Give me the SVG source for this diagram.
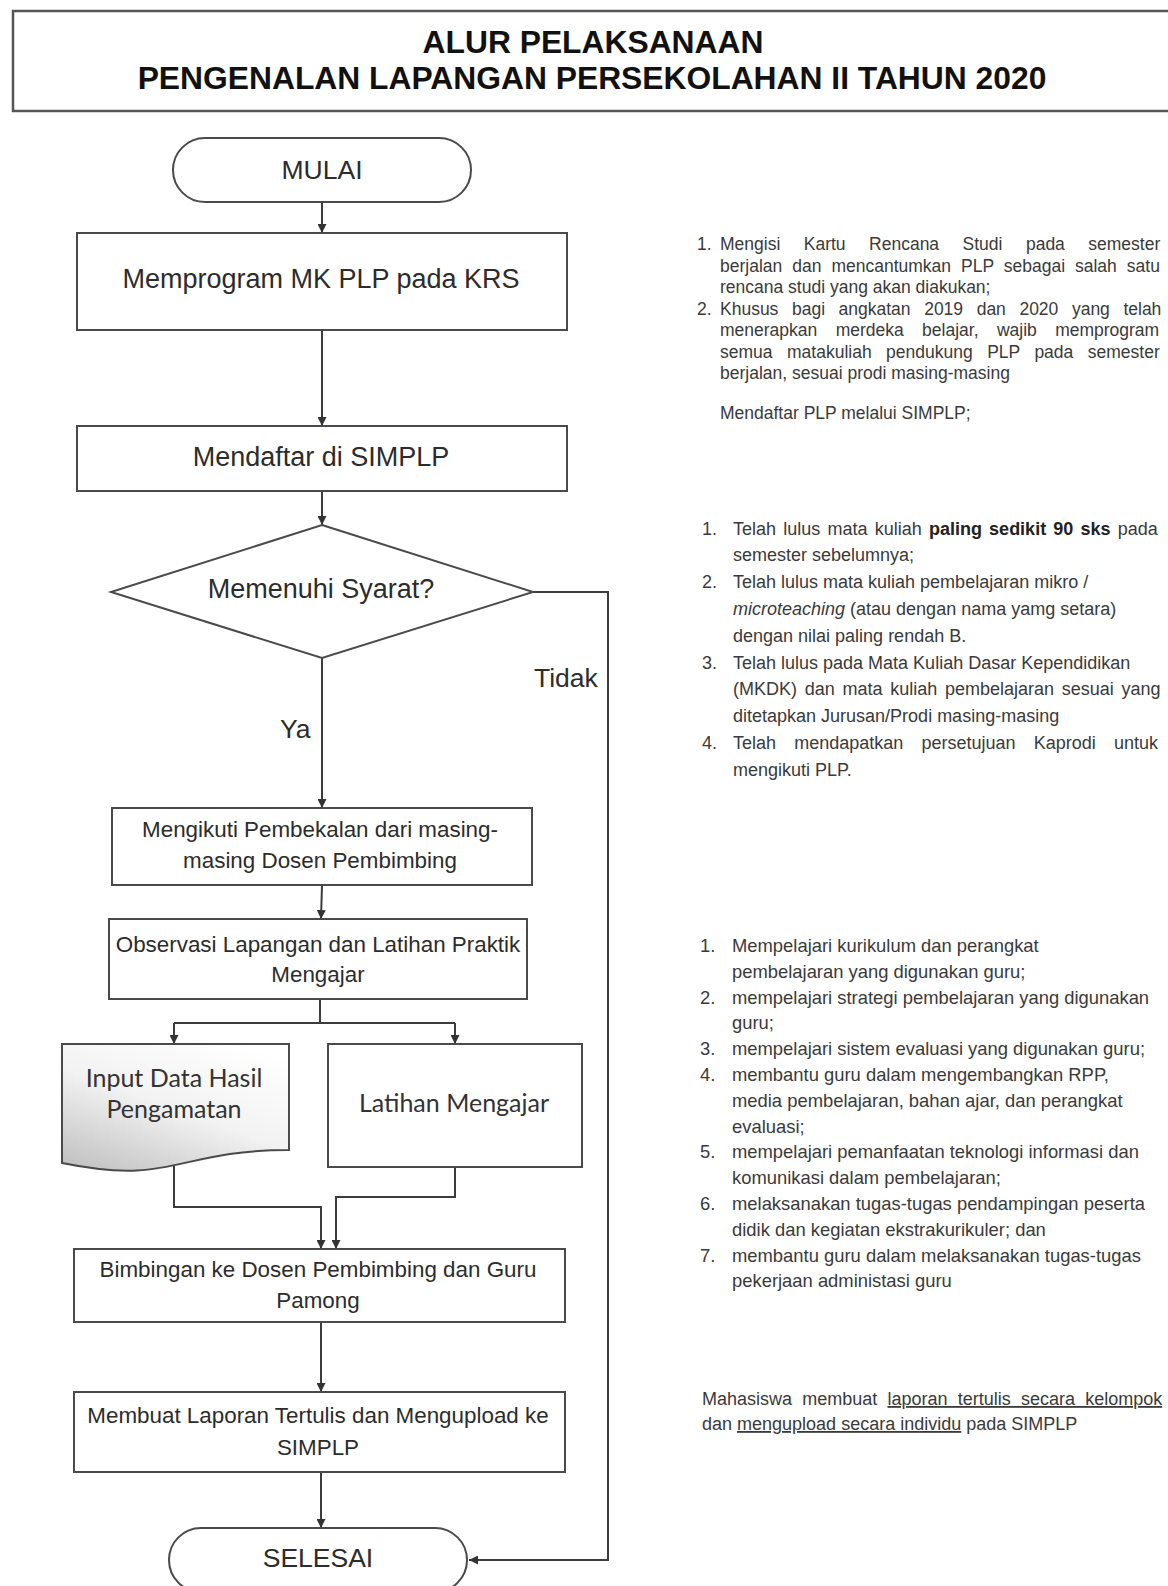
<svg xmlns="http://www.w3.org/2000/svg" width="1168" height="1586" viewBox="0 0 1168 1586">
<defs>
<marker id="ah" viewBox="0 0 10 10" refX="10" refY="5" markerWidth="9" markerHeight="9" markerUnits="userSpaceOnUse" orient="auto"><path d="M0,0 L10,5 L0,10 z" fill="#333"/></marker>
<linearGradient id="docg" x1="0.8" y1="0" x2="0.15" y2="1"><stop offset="0" stop-color="#ffffff"/><stop offset="0.5" stop-color="#f2f2f2"/><stop offset="1" stop-color="#c4c4c4"/></linearGradient>
<style>
.ln{stroke:#3c3c3c;stroke-width:2;fill:none}
.bx{fill:#fff;stroke:#4a4a4a;stroke-width:2}
.ft{font-family:"Liberation Sans",Arial,sans-serif;font-size:22.4px;fill:#2c2c2c;text-anchor:middle}
.fl{font-size:26.5px}
.cb{font-family:Lato,"Open Sans",sans-serif;font-size:25px;fill:#333;text-anchor:middle}
.rt{font-family:"Liberation Sans",Arial,sans-serif;font-size:18px;fill:#3a3a3a}
.rs{font-family:"Liberation Sans",Arial,sans-serif;font-size:17.5px;fill:#3a3a3a}
.tt{font-family:"Liberation Sans",Arial,sans-serif;font-size:31.8px;font-weight:bold;fill:#111;text-anchor:middle}
</style>
</defs>
<rect width="1168" height="1586" fill="#fff"/>

<g id="title">
<rect x="13" y="11" width="1170" height="100" fill="#fff" stroke="#555" stroke-width="2.5"/>
<text class="tt" x="593" y="53">ALUR PELAKSANAAN</text>
<text class="tt" x="592" y="89">PENGENALAN LAPANGAN PERSEKOLAHAN II TAHUN 2020</text>
</g>

<g id="connectors">
<line class="ln" x1="322" y1="202" x2="322" y2="233" marker-end="url(#ah)"/>
<line class="ln" x1="322" y1="330" x2="322" y2="426" marker-end="url(#ah)"/>
<line class="ln" x1="322" y1="491" x2="322" y2="525" marker-end="url(#ah)"/>
<line class="ln" x1="322" y1="658" x2="322" y2="808" marker-end="url(#ah)"/>
<polyline class="ln" points="533,592 608,592 608,1560 469,1560" marker-end="url(#ah)"/>
<line class="ln" x1="322" y1="885" x2="321" y2="919" marker-end="url(#ah)"/>
<line class="ln" x1="320" y1="999" x2="320" y2="1023"/>
<line class="ln" x1="174" y1="1023" x2="455" y2="1023"/>
<line class="ln" x1="174" y1="1023" x2="174" y2="1044" marker-end="url(#ah)"/>
<line class="ln" x1="455" y1="1023" x2="455" y2="1044" marker-end="url(#ah)"/>
<polyline class="ln" points="174,1166 174,1207 321,1207 321,1249" marker-end="url(#ah)"/>
<polyline class="ln" points="455,1167 455,1197 336,1197 336,1249" marker-end="url(#ah)"/>
<line class="ln" x1="321" y1="1322" x2="321" y2="1392" marker-end="url(#ah)"/>
<line class="ln" x1="321" y1="1472" x2="321" y2="1528" marker-end="url(#ah)"/>
<text class="ft fl" x="534" y="687" style="text-anchor:start">Tidak</text>
<text class="ft fl" x="280" y="738" style="text-anchor:start">Ya</text>
</g>

<g id="mulai">
<rect class="bx" x="173" y="138" width="298" height="64" rx="32"/>
<text class="ft fl" x="322" y="179">MULAI</text>
</g>

<g id="memprogram">
<rect class="bx" x="77" y="233" width="490" height="97"/>
<text class="ft" x="321" y="288" style="font-size:27px">Memprogram MK PLP pada KRS</text>
</g>

<g id="mendaftar">
<rect class="bx" x="77" y="426" width="490" height="65"/>
<text class="ft" x="321" y="466" style="font-size:27px">Mendaftar di SIMPLP</text>
</g>

<g id="syarat">
<polygon class="bx" points="322,525 533,592 322,658 111,592"/>
<text class="ft" x="321" y="598" style="font-size:27px">Memenuhi Syarat?</text>
</g>

<g id="pembekalan">
<rect class="bx" x="112" y="808" width="420" height="77"/>
<text class="ft" x="320" y="837">Mengikuti Pembekalan dari masing-</text>
<text class="ft" x="320" y="868">masing Dosen Pembimbing</text>
</g>

<g id="observasi">
<rect class="bx" x="109" y="919" width="418" height="80"/>
<text class="ft" x="318" y="952">Observasi Lapangan dan Latihan Praktik</text>
<text class="ft" x="318" y="982">Mengajar</text>
</g>

<g id="input-data">
<path d="M62,1044 H289 V1150 C175,1150 175,1186 62,1163 Z" fill="url(#docg)" stroke="#4a4a4a" stroke-width="2"/>
<text class="cb" x="174" y="1087">Input Data Hasil</text>
<text class="cb" x="174" y="1118">Pengamatan</text>
</g>

<g id="latihan">
<rect class="bx" x="328" y="1044" width="254" height="123"/>
<text class="cb" x="454" y="1112">Latihan Mengajar</text>
</g>

<g id="bimbingan">
<rect class="bx" x="74" y="1249" width="491" height="73"/>
<text class="ft" x="318" y="1277">Bimbingan ke Dosen Pembimbing dan Guru</text>
<text class="ft" x="318" y="1308">Pamong</text>
</g>

<g id="laporan">
<rect class="bx" x="74" y="1392" width="491" height="80"/>
<text class="ft" x="318" y="1423">Membuat Laporan Tertulis dan Mengupload ke</text>
<text class="ft" x="318" y="1455">SIMPLP</text>
</g>

<g id="selesai">
<rect class="bx" x="169" y="1528" width="298" height="64" rx="32"/>
<text class="ft fl" x="318" y="1567">SELESAI</text>
</g>

<g id="note-krs" class="rs">
<text x="697" y="250">1.</text>
<text x="720" y="250" word-spacing="18.6">Mengisi Kartu Rencana Studi pada semester</text>
<text x="720" y="271.5" word-spacing="5.1">berjalan dan mencantumkan PLP sebagai salah satu</text>
<text x="720" y="293">rencana studi yang akan diakukan;</text>
<text x="697" y="314.5">2.</text>
<text x="720" y="314.5" word-spacing="8.7">Khusus bagi angkatan 2019 dan 2020 yang telah</text>
<text x="720" y="336" word-spacing="13.5">menerapkan merdeka belajar, wajib memprogram</text>
<text x="720" y="357.5" word-spacing="9.6">semua matakuliah pendukung PLP pada semester</text>
<text x="720" y="379">berjalan, sesuai prodi masing-masing</text>
</g>

<g id="note-simplp" class="rs">
<text x="720" y="419">Mendaftar PLP melalui SIMPLP;</text>
</g>

<g id="note-syarat" class="rt">
<text x="702" y="534.5">1.</text>
<text x="733" y="534.5" word-spacing="2.2">Telah lulus mata kuliah <tspan font-weight="bold" fill="#222">paling sedikit 90 sks</tspan> pada</text>
<text x="733" y="561.3">semester sebelumnya;</text>
<text x="702" y="588.1">2.</text>
<text x="733" y="588.1">Telah lulus mata kuliah pembelajaran mikro /</text>
<text x="733" y="614.9"><tspan font-style="italic">microteaching</tspan> (atau dengan nama yamg setara)</text>
<text x="733" y="641.7">dengan nilai paling rendah B.</text>
<text x="702" y="668.5">3.</text>
<text x="733" y="668.5">Telah lulus pada Mata Kuliah Dasar Kependidikan</text>
<text x="733" y="695.3" word-spacing="2.7">(MKDK) dan mata kuliah pembelajaran sesuai yang</text>
<text x="733" y="722.1">ditetapkan Jurusan/Prodi masing-masing</text>
<text x="702" y="748.9">4.</text>
<text x="733" y="748.9" word-spacing="13.2">Telah mendapatkan persetujuan Kaprodi untuk</text>
<text x="733" y="775.7">mengikuti PLP.</text>
</g>

<g id="note-observasi" class="rt" style="font-size:18.4px">
<text x="700" y="952">1.</text>
<text x="732" y="952">Mempelajari kurikulum dan perangkat</text>
<text x="732" y="977.8">pembelajaran yang digunakan guru;</text>
<text x="700" y="1003.6">2.</text>
<text x="732" y="1003.6">mempelajari strategi pembelajaran yang digunakan</text>
<text x="732" y="1029.4">guru;</text>
<text x="700" y="1055.2">3.</text>
<text x="732" y="1055.2">mempelajari sistem evaluasi yang digunakan guru;</text>
<text x="700" y="1081">4.</text>
<text x="732" y="1081">membantu guru dalam mengembangkan RPP,</text>
<text x="732" y="1106.8">media pembelajaran, bahan ajar, dan perangkat</text>
<text x="732" y="1132.6">evaluasi;</text>
<text x="700" y="1158.4">5.</text>
<text x="732" y="1158.4">mempelajari pemanfaatan teknologi informasi dan</text>
<text x="732" y="1184.2">komunikasi dalam pembelajaran;</text>
<text x="700" y="1210">6.</text>
<text x="732" y="1210">melaksanakan tugas-tugas pendampingan peserta</text>
<text x="732" y="1235.8">didik dan kegiatan ekstrakurikuler; dan</text>
<text x="700" y="1261.6">7.</text>
<text x="732" y="1261.6">membantu guru dalam melaksanakan tugas-tugas</text>
<text x="732" y="1287.4">pekerjaan administasi guru</text>
</g>

<g id="note-laporan" class="rt">
<text x="702" y="1405" word-spacing="5.2">Mahasiswa membuat <tspan text-decoration="underline">laporan tertulis secara kelompok</tspan></text>
<text x="702" y="1430">dan <tspan text-decoration="underline">mengupload secara individu</tspan> pada SIMPLP</text>
</g>
</svg>
